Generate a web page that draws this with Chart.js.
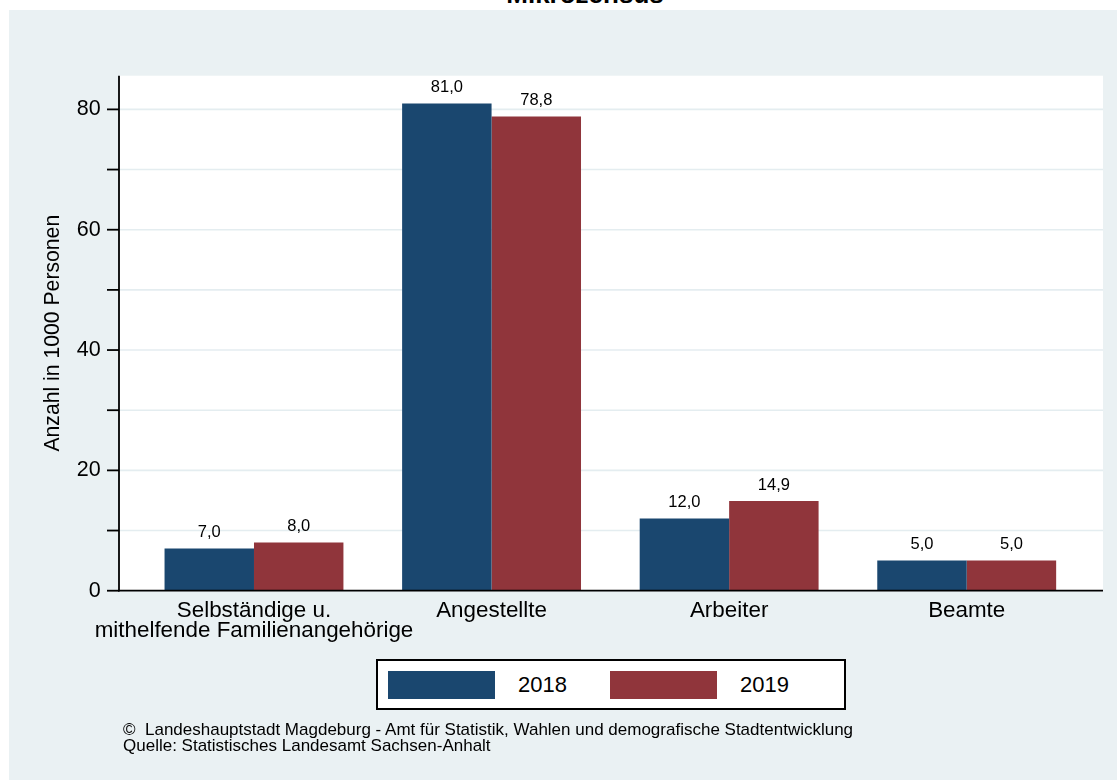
<!DOCTYPE html>
<html>
<head>
<meta charset="utf-8">
<script src="https://cdn.jsdelivr.net/npm/chart.js@4/dist/chart.umd.min.js"></script>
<style>
html,body{margin:0;padding:0;background:#ffffff;width:1117px;height:780px;overflow:hidden;font-family:"Liberation Sans",Arial,Helvetica,sans-serif;color:#000;}
#panel{position:absolute;left:9px;top:10px;width:1108px;height:770px;background:#eaf1f3;}
#title{position:absolute;left:0;top:-19.5px;width:1170px;text-align:center;font-weight:bold;font-size:26px;line-height:26px;white-space:nowrap;}
#wrap{position:absolute;left:0;top:0;width:1117px;height:780px;}
#legend{position:absolute;left:376px;top:659px;width:470px;height:51px;box-sizing:border-box;border:2px solid #000;background:#fff;}
.item{position:absolute;top:10px;width:222px;height:28px;}
.sw{position:absolute;left:0;top:0;width:107px;height:28px;}
.lt{position:absolute;left:130px;top:0;height:28px;line-height:28px;font-size:22px;white-space:nowrap;}
#footer{position:absolute;left:123px;top:722px;font-size:17px;line-height:15.6px;white-space:pre;}
</style>
</head>
<body>
<div id="panel"></div>
<div id="title">Mikrozensus</div>
<div id="wrap"><canvas id="c" width="1117" height="780"></canvas></div>
<div id="legend"></div>
<div id="footer">©  Landeshauptstadt Magdeburg - Amt für Statistik, Wahlen und demografische Stadtentwicklung
Quelle: Statistisches Landesamt Sachsen-Anhalt</div>
<script>
// ---- data ----
const categories = [['Selbständige u.', 'mithelfende Familienangehörige'], 'Angestellte', 'Arbeiter', 'Beamte'];
const seriesLabels = ['2018', '2019'];
const values2018 = [7.0, 81.0, 12.0, 5.0];
const values2019 = [8.0, 78.8, 14.9, 5.0];
const yTickLabels = [0, 20, 40, 60, 80];
const yTitle = 'Anzahl in 1000 Personen';

const colors = ['#1a476f', '#90353b'];
const FONT = '"Liberation Sans", Arial, Helvetica, sans-serif';

const fmt = v => v.toFixed(1).replace('.', ',');

const stataPlugin = {
  id: 'stata',
  beforeDraw(chart) {
    const ctx = chart.ctx, y = chart.scales.y, a = chart.chartArea;
    const L = a.left - 16.2, R = a.right + 17.5;
    ctx.save();
    ctx.fillStyle = '#ffffff';
    ctx.fillRect(L, a.top, R - L, a.bottom - a.top);
    ctx.strokeStyle = '#e4edf0';
    ctx.lineWidth = 1.6;
    y.ticks.forEach(t => {
      if (t.value === 0) return;
      const p = y.getPixelForValue(t.value);
      ctx.beginPath(); ctx.moveTo(L, p); ctx.lineTo(R, p); ctx.stroke();
    });
    ctx.restore();
  },
  afterDatasetsDraw(chart) {
    const ctx = chart.ctx, y = chart.scales.y, a = chart.chartArea;
    const L = a.left - 16.2, R = a.right + 17.5;
    ctx.save();
    ctx.strokeStyle = '#000';
    ctx.lineWidth = 1.8;
    ctx.beginPath(); ctx.moveTo(L, a.top); ctx.lineTo(L, a.bottom + 0.9); ctx.stroke();
    ctx.beginPath(); ctx.moveTo(L - 0.9, a.bottom); ctx.lineTo(R, a.bottom); ctx.stroke();
    y.ticks.forEach(t => {
      const p = y.getPixelForValue(t.value);
      ctx.beginPath(); ctx.moveTo(L - 12, p); ctx.lineTo(L, p); ctx.stroke();
    });
    ctx.fillStyle = '#000';
    ctx.font = '16.5px ' + FONT;
    ctx.textAlign = 'center';
    ctx.textBaseline = 'alphabetic';
    chart.data.datasets.forEach((ds, di) => {
      const meta = chart.getDatasetMeta(di);
      meta.data.forEach((el, i) => {
        ctx.fillText(fmt(ds.data[i]), el.x, el.y - 11.5);
      });
    });
    ctx.restore();
  }
};

const chart = new Chart(document.getElementById('c'), {
  type: 'bar',
  data: {
    labels: categories,
    datasets: [
      { label: seriesLabels[0], data: values2018, backgroundColor: colors[0], borderWidth: 0 },
      { label: seriesLabels[1], data: values2019, backgroundColor: colors[1], borderWidth: 0 }
    ]
  },
  options: {
    responsive: false,
    animation: false,
    devicePixelRatio: 1,
    layout: { padding: { left: 20, right: 31.5, top: 75.7, bottom: 129.3 } },
    plugins: { legend: { display: false }, tooltip: { enabled: false }, title: { display: false } },
    datasets: { bar: { barPercentage: 1.0, categoryPercentage: 0.753 } },
    scales: {
      x: {
        type: 'category',
        offset: true,
        grid: { display: false, drawTicks: false },
        border: { display: false },
        ticks: { color: '#000', font: { family: FONT, size: 22.4, lineHeight: 0.9 }, padding: 10, maxRotation: 0, minRotation: 0, autoSkip: false },
        afterFit: s => { s.height = 60; }
      },
      y: {
        min: 0,
        max: 85.6,
        grid: { display: false, drawTicks: false },
        border: { display: false },
        ticks: {
          stepSize: 10,
          includeBounds: false,
          color: '#000',
          font: { family: FONT, size: 21.5 },
          padding: 34.5,
          callback: v => yTickLabels.includes(v) ? String(v) : ''
        },
        title: { display: true, text: yTitle, color: '#000', font: { family: FONT, size: 21.2 }, padding: { top: 20.4, bottom: 0 } },
        afterFit: s => { s.width = 115.2; }
      }
    }
  },
  plugins: [stataPlugin]
});

// legend built from the datasets
const leg = document.getElementById('legend');
chart.data.datasets.forEach((ds, i) => {
  const it = document.createElement('div');
  it.className = 'item';
  it.style.left = (10 + i * 222) + 'px';
  const sw = document.createElement('div');
  sw.className = 'sw';
  sw.style.background = ds.backgroundColor;
  const lt = document.createElement('div');
  lt.className = 'lt';
  lt.textContent = ds.label;
  it.appendChild(sw); it.appendChild(lt);
  leg.appendChild(it);
});
</script>
</body>
</html>
